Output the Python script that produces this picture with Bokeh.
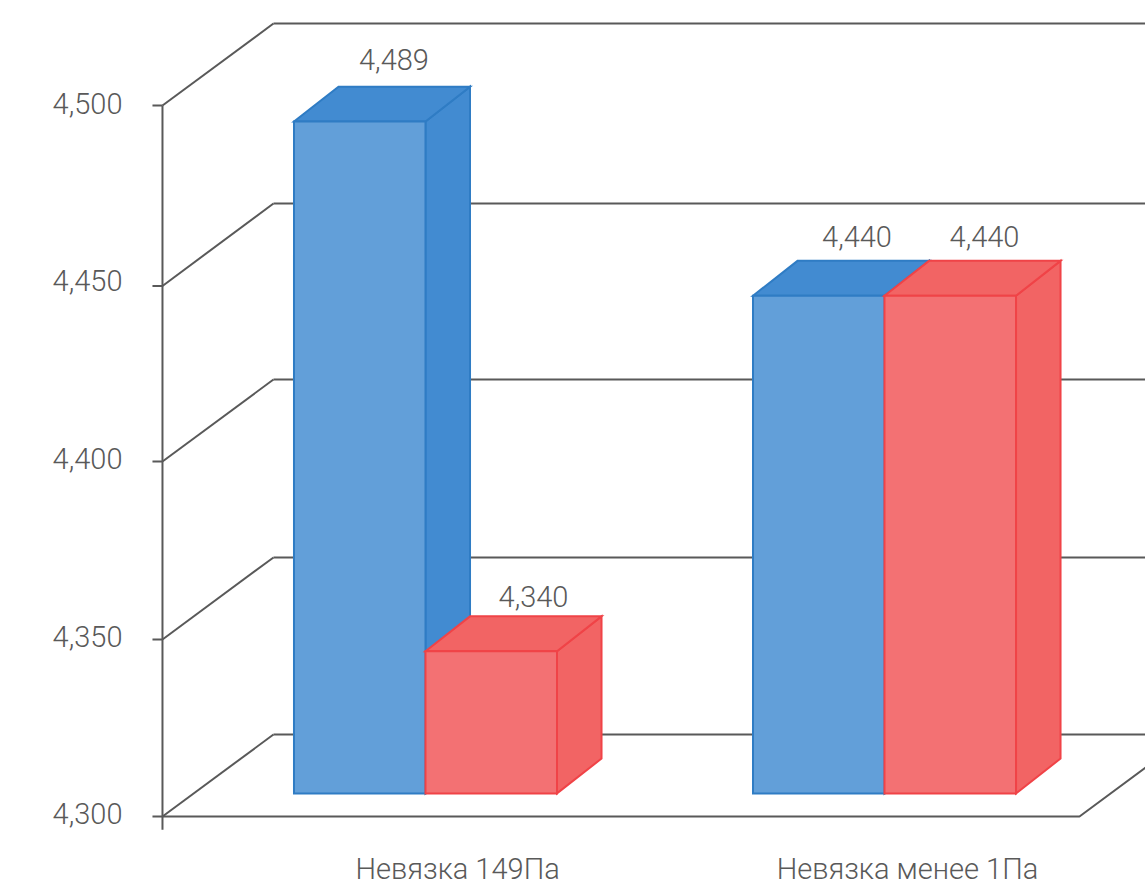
from bokeh.core.properties import value
from bokeh.embed import file_html
from bokeh.models import ColumnDataSource, FixedTicker, LinearAxis, Range1d
from bokeh.plotting import figure
from bokeh.resources import INLINE

# Chart data
categories = ["Невязка 149Па", "Невязка менее 1Па"]
series_a = [4.489, 4.440]
series_b = [4.340, 4.440]
value_labels_a = ["4,489", "4,440"]
value_labels_b = ["4,340", "4,440"]
tick_values = [4.3, 4.35, 4.4, 4.45, 4.5]
tick_labels = ["4,300", "4,350", "4,400", "4,450", "4,500"]

# Oblique projection, in axis units
BAR_W = 0.2865       # front face width of one bar
BAR_LIFT = 0.0065    # bars stand this far up the floor
DEPTH_X, DEPTH_Y = 0.097, 0.0098     # bar depth
WALL_X, WALL_Y = 0.2418, 0.02307     # floor depth up to the back wall
AXIS_X = -0.573      # where the value axis line stands
TICK_LEN = 0.0218    # tick mark length
AXIS_FLOOR = 4.2963  # lower end of the value axis line
FLOOR_RIGHT = 1.4248  # front right corner of the floor
X_MIN, X_MAX = -0.5991, 1.5686
Y_MIN, Y_MAX = 4.28059, 4.52954
FRAME_LEFT = 150
LABEL_LIFT_PX = 2.5  # tick labels sit slightly above their ticks

# Downward screen-pixel adjustment of the guide lines per tick
TICK_NUDGE_PX = [0, 0.7, 0.5, 2.7, 0]
WALL_NUDGE_PX = [0, 0.7, 0.5, 2.2, 0]

INK = "#595959"
FONT = "Roboto Light"
FONT_SIZE = "29px"
BLUE = dict(front="#629FD9", shade="#428BD1", stroke="#2F7CC4")
RED = dict(front="#F37173", shade="#F26464", stroke="#F04347")

p = figure(
    width=1145, height=885, output_backend="svg", toolbar_location=None,
    x_range=Range1d(X_MIN, X_MAX), y_range=Range1d(Y_MIN, Y_MAX),
    x_axis_location=None, y_axis_location=None,
    min_border=0, min_border_left=FRAME_LEFT, outline_line_color=None,
    background_fill_color="white", border_fill_color="white",
)
p.grid.visible = False

px = (Y_MAX - Y_MIN) / 885  # one screen pixel in axis units
floor = tick_values[0]
tick_y = [v - n * px for v, n in zip(tick_values, TICK_NUDGE_PX)]
wall_y = [v + WALL_Y - n * px for v, n in zip(tick_values, WALL_NUDGE_PX)]

# Value axis: tick labels only, the line and tick marks are drawn in the frame
lift = LABEL_LIFT_PX * px
p.extra_y_ranges["tick_labels"] = Range1d(Y_MIN - lift, Y_MAX - lift)
axis = LinearAxis(
    y_range_name="tick_labels",
    ticker=FixedTicker(ticks=tick_values),
    major_label_overrides=dict(zip(tick_values, tick_labels)),
    major_label_text_font=FONT, major_label_text_font_size=FONT_SIZE,
    major_label_text_color=INK, major_label_standoff=22,
    major_tick_line_color=None, minor_tick_line_color=None,
    axis_line_color=None,
)
p.add_layout(axis, "left")

line = dict(line_color=INK, line_width=2)
n = len(tick_values)
p.segment(x0=[AXIS_X] * n, x1=[AXIS_X + WALL_X] * n, y0=tick_y, y1=wall_y, **line)
p.segment(x0=[AXIS_X + WALL_X] * n, x1=[X_MAX] * n, y0=wall_y, y1=wall_y, **line)
p.line(x=[AXIS_X, FLOOR_RIGHT, FLOOR_RIGHT + WALL_X],
       y=[floor, floor, floor + WALL_Y], **line)
p.segment(x0=[AXIS_X - TICK_LEN] * n, x1=[AXIS_X] * n, y0=tick_y, y1=tick_y, **line)
p.segment(x0=[AXIS_X], x1=[AXIS_X], y0=[AXIS_FLOOR], y1=[tick_values[-1]], **line)


def draw_bar(left, val, colors):
    """Front, top and side faces of one oblique bar."""
    right = left + BAR_W
    base = floor + BAR_LIFT
    top = val + BAR_LIFT
    style = dict(line_color=colors["stroke"], line_width=2, line_join="miter")
    p.patch(x=[right, right + DEPTH_X, right + DEPTH_X, right],
            y=[base, base + DEPTH_Y, top + DEPTH_Y, top],
            fill_color=colors["shade"], **style)
    p.patch(x=[left, left + DEPTH_X, right + DEPTH_X, right],
            y=[top, top + DEPTH_Y, top + DEPTH_Y, top],
            fill_color=colors["shade"], **style)
    p.patch(x=[left, right, right, left],
            y=[base, base, top, top],
            fill_color=colors["front"], **style)


for i, (a, b) in enumerate(zip(series_a, series_b)):
    draw_bar(i - BAR_W, a, BLUE)
    draw_bar(i, b, RED)

# Value labels above the bars, placed relative to each bar's top back edge
lab = ColumnDataSource(dict(
    x=[i - BAR_W for i in range(2)] + list(range(2)),
    y=[v + BAR_LIFT + DEPTH_Y for v in series_a + series_b],
    text=value_labels_a + value_labels_b,
    dx=[100, 104, 108, 100],
    dy=[-27, -24, -20, -24],
))
p.text(x="x", y="y", text="text", x_offset="dx", y_offset="dy", source=lab,
       text_font=value(FONT), text_font_size=FONT_SIZE, text_color=INK,
       text_align="center", text_baseline="middle")

# Category labels under the floor
p.text(x=[0.07, 1.05], y=[4.2851, 4.2851], text=categories,
       text_font=value(FONT), text_font_size=FONT_SIZE, text_color=INK,
       text_align="center", text_baseline="middle")

open("out.html", "w").write(file_html(p, INLINE))
